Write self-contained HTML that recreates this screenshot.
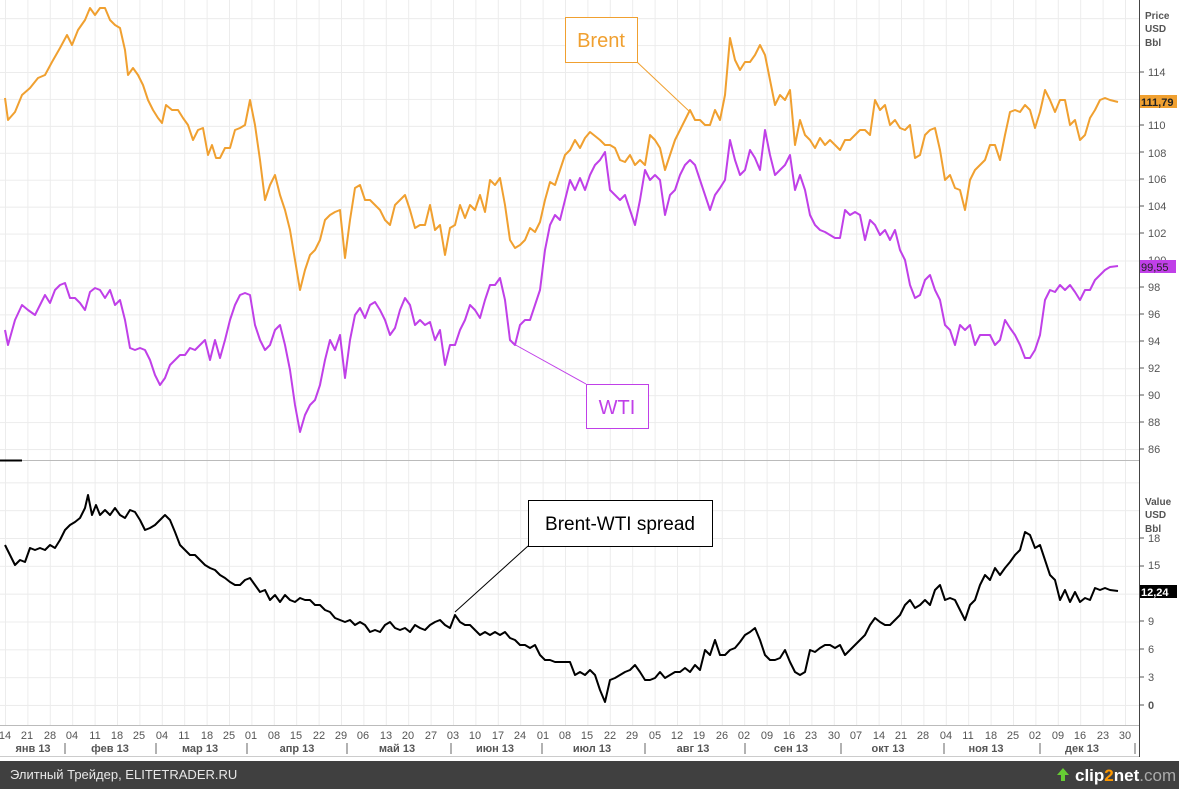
<!DOCTYPE html>
<html><head><meta charset="utf-8"><style>
html,body{margin:0;padding:0;background:#fff;}
svg{display:block;font-family:"Liberation Sans","DejaVu Sans",sans-serif;}
</style></head><body>
<svg width="1179" height="789" viewBox="0 0 1179 789" xmlns="http://www.w3.org/2000/svg">
<rect x="0" y="0" width="1179" height="789" fill="#fff"/>
<defs>
<pattern id="vg" x="5" y="0" width="22.4" height="789" patternUnits="userSpaceOnUse"><line x1="0.5" y1="0" x2="0.5" y2="789" stroke="#ececec" stroke-width="1"/></pattern>
<pattern id="hg1" x="0" y="72" width="1179" height="26.93" patternUnits="userSpaceOnUse"><line x1="0" y1="0.5" x2="1179" y2="0.5" stroke="#ececec"/></pattern>
<pattern id="hg2" x="0" y="538" width="1179" height="27.83" patternUnits="userSpaceOnUse"><line x1="0" y1="0.5" x2="1179" y2="0.5" stroke="#ececec"/></pattern>
</defs>
<rect x="0" y="0" width="1139" height="725" fill="url(#vg)"/>
<rect x="0" y="0" width="1139" height="458" fill="url(#hg1)"/>
<rect x="0" y="470" width="1139" height="255" fill="url(#hg2)"/>
<line x1="0" y1="460.5" x2="1139" y2="460.5" stroke="#bbb"/>
<line x1="0" y1="460.5" x2="22" y2="460.5" stroke="#000" stroke-width="2"/>
<line x1="1139.5" y1="0" x2="1139.5" y2="757" stroke="#444"/>
<!-- price axis -->
<g font-size="11" fill="#555">
<text x="1145" y="19" font-weight="bold" font-size="10">Price</text>
<text x="1145" y="32" font-weight="bold" font-size="10">USD</text>
<text x="1145" y="46" font-weight="bold" font-size="10">Bbl</text>
<text x="1148" y="76">114</text><text x="1148" y="129">110</text><text x="1148" y="157">108</text><text x="1148" y="183">106</text><text x="1148" y="210">104</text><text x="1148" y="237">102</text><text x="1148" y="264">100</text><text x="1148" y="291">98</text><text x="1148" y="318">96</text><text x="1148" y="345">94</text><text x="1148" y="372">92</text><text x="1148" y="399">90</text><text x="1148" y="426">88</text><text x="1148" y="453">86</text>
<text x="1145" y="505" font-weight="bold" font-size="10">Value</text>
<text x="1145" y="518" font-weight="bold" font-size="10">USD</text>
<text x="1145" y="532" font-weight="bold" font-size="10">Bbl</text>
<text x="1148" y="542">18</text><text x="1148" y="569">15</text><text x="1148" y="597">12</text><text x="1148" y="625">9</text><text x="1148" y="653">6</text><text x="1148" y="681">3</text><text x="1148" y="709" font-weight="bold">0</text>
</g>
<g stroke="#555"><line x1="1140" y1="72" x2="1144" y2="72"/><line x1="1140" y1="125" x2="1144" y2="125"/><line x1="1140" y1="152" x2="1144" y2="152"/><line x1="1140" y1="179" x2="1144" y2="179"/><line x1="1140" y1="206" x2="1144" y2="206"/><line x1="1140" y1="233" x2="1144" y2="233"/><line x1="1140" y1="287" x2="1144" y2="287"/><line x1="1140" y1="314" x2="1144" y2="314"/><line x1="1140" y1="341" x2="1144" y2="341"/><line x1="1140" y1="368" x2="1144" y2="368"/><line x1="1140" y1="395" x2="1144" y2="395"/><line x1="1140" y1="422" x2="1144" y2="422"/><line x1="1140" y1="449" x2="1144" y2="449"/><line x1="1140" y1="538" x2="1144" y2="538"/><line x1="1140" y1="566" x2="1144" y2="566"/><line x1="1140" y1="621" x2="1144" y2="621"/><line x1="1140" y1="649" x2="1144" y2="649"/><line x1="1140" y1="677" x2="1144" y2="677"/><line x1="1140" y1="705" x2="1144" y2="705"/></g>
<rect x="1140" y="95" width="37" height="13" fill="#f0a030"/><text x="1141" y="106" font-size="11" font-weight="bold" fill="#222">111,79</text>
<rect x="1140" y="260" width="36" height="13" fill="#c040e8"/><text x="1141" y="271" font-size="11" fill="#222">99,55</text>
<rect x="1140" y="585" width="37" height="13" fill="#000"/><text x="1141" y="596" font-size="11" font-weight="bold" fill="#fff">12,24</text>
<!-- series -->
<polyline fill="none" stroke="#f0a030" stroke-width="2" stroke-linejoin="round" points="5,98 8,120 15,112 22,95 30,88 38,78 45,75 52,62 60,48 67,35 72,45 78,30 85,20 90,8 95,15 100,8 105,8 110,20 115,25 120,28 125,50 128,75 133,68 138,75 143,85 148,100 153,110 158,118 162,123 166,105 172,110 178,110 183,118 188,125 193,140 198,130 203,128 208,155 212,145 216,158 220,158 225,148 230,148 235,130 240,128 245,125 250,100 255,125 260,160 265,200 270,185 275,175 280,195 285,210 290,230 295,260 300,290 305,270 310,255 315,250 320,240 325,220 330,215 335,212 340,210 345,258 350,220 355,188 360,185 365,200 370,200 375,205 380,210 385,220 390,225 395,205 400,200 405,195 410,210 415,228 420,225 425,225 430,205 435,230 440,225 445,255 450,228 455,225 460,205 465,218 470,205 475,210 480,195 485,212 490,180 495,185 500,178 505,205 510,240 515,248 520,245 525,240 530,228 535,232 540,222 545,200 550,182 555,185 560,170 565,155 570,150 575,140 580,148 585,138 590,132 595,136 600,140 605,145 610,145 615,148 620,160 625,162 630,155 635,165 640,160 645,165 650,135 655,140 660,148 665,170 670,155 675,140 680,130 685,120 690,110 695,120 700,120 705,125 710,125 715,110 720,120 725,95 730,38 735,60 740,70 745,62 750,62 755,55 760,45 765,55 770,80 775,105 780,95 785,100 790,90 795,145 800,120 805,135 810,140 815,148 820,138 825,145 830,140 835,145 840,150 845,140 850,140 855,135 860,130 865,130 870,135 875,100 880,110 885,105 890,125 895,120 900,128 905,130 910,125 915,158 920,155 925,135 930,130 935,128 940,150 945,180 950,175 955,188 960,190 965,210 970,180 975,170 980,165 985,160 990,145 995,145 1000,160 1005,135 1010,112 1015,110 1020,112 1025,105 1030,110 1035,128 1040,112 1045,90 1050,100 1055,112 1060,100 1065,100 1070,125 1075,120 1080,140 1085,135 1090,118 1095,110 1100,100 1105,98 1110,100 1118,102"/>
<polyline fill="none" stroke="#c040e8" stroke-width="2" stroke-linejoin="round" points="5,330 8,345 15,320 22,305 28,310 35,315 40,305 45,295 50,303 55,290 60,285 65,283 70,298 75,298 80,303 85,310 90,292 95,288 100,290 105,298 110,290 115,305 120,300 125,320 130,348 135,350 140,348 145,350 150,360 155,375 160,385 165,378 170,365 175,360 180,355 185,355 190,348 195,350 200,345 205,340 210,360 215,340 220,358 225,340 230,320 235,305 240,295 245,293 250,295 255,325 260,340 265,350 270,345 275,330 280,325 285,345 290,370 295,405 300,432 305,415 310,405 315,400 320,385 325,360 330,340 335,350 340,335 345,378 350,340 355,315 360,308 365,318 370,305 375,302 380,310 385,320 390,335 395,328 400,310 405,298 410,305 415,325 420,320 425,325 430,322 435,340 440,330 445,365 450,345 455,345 460,330 465,320 470,305 475,310 480,318 485,300 490,285 495,285 500,278 505,300 510,340 515,345 520,325 525,320 530,320 535,305 540,290 545,250 550,225 555,215 560,220 565,200 570,180 575,190 580,178 585,190 590,175 595,165 600,160 605,152 610,190 615,195 620,200 625,195 630,210 635,225 640,200 645,170 650,180 655,175 660,180 665,215 670,195 675,190 680,175 685,165 690,160 695,165 700,180 705,195 710,210 715,195 720,188 725,180 730,140 735,160 740,175 745,170 750,150 755,158 760,170 765,130 770,155 775,175 780,170 785,165 790,155 795,190 800,175 805,190 810,215 815,225 820,230 825,232 830,235 835,238 840,238 845,210 850,215 855,212 860,215 865,240 870,220 875,225 880,235 885,230 890,240 895,230 900,250 905,260 910,285 915,298 920,295 925,280 930,275 935,290 940,300 945,325 950,330 955,345 960,325 965,330 970,325 975,345 980,335 985,335 990,335 995,345 1000,340 1005,320 1010,328 1015,335 1020,345 1025,358 1030,358 1035,350 1040,335 1045,300 1050,290 1055,292 1060,285 1065,290 1070,285 1075,292 1080,300 1085,290 1090,290 1095,280 1100,275 1105,270 1110,267 1118,266"/>
<polyline fill="none" stroke="#000" stroke-width="2" stroke-linejoin="round" points="5,545 10,555 15,565 20,560 25,562 30,548 35,550 40,548 45,550 50,545 55,548 60,540 65,530 70,525 75,522 80,518 85,508 88,495 92,515 96,505 100,515 105,510 110,515 115,508 120,515 125,518 130,510 135,512 140,520 145,530 150,528 155,525 160,520 165,515 170,520 175,532 180,545 185,550 190,555 195,555 200,560 205,565 210,568 215,570 220,575 225,578 230,582 235,585 240,585 245,580 250,578 255,585 260,592 265,590 270,600 275,595 280,602 285,595 290,600 295,602 300,598 305,600 310,600 315,605 320,605 325,610 330,612 335,618 340,620 345,622 350,620 355,625 360,622 365,625 370,632 375,630 380,632 385,625 390,622 395,628 400,630 405,628 410,632 415,625 420,628 425,630 430,625 435,622 440,620 445,625 450,628 455,615 460,622 465,625 470,625 475,630 480,635 485,632 490,635 495,632 500,635 505,632 510,638 515,640 520,645 525,645 530,648 535,645 540,655 545,660 550,660 555,662 560,662 565,662 570,662 575,675 580,672 585,675 590,670 595,675 600,690 605,702 610,680 615,678 620,675 625,672 630,670 635,665 640,672 645,680 650,680 655,678 660,672 665,678 670,675 675,672 680,672 685,668 690,672 695,665 700,670 705,650 710,655 715,640 720,655 725,655 730,650 735,648 740,642 745,635 750,632 755,628 760,640 765,655 770,660 775,660 780,658 785,650 790,662 795,672 800,675 805,672 810,650 815,652 820,648 825,645 830,645 835,648 840,645 845,655 850,650 855,645 860,640 865,635 870,625 875,618 880,622 885,625 890,625 895,620 900,615 905,605 910,600 915,608 920,605 925,600 930,605 935,590 940,585 945,600 950,598 955,600 960,610 965,620 970,605 975,600 980,585 985,575 990,580 995,568 1000,575 1005,568 1010,562 1015,555 1020,550 1025,532 1030,535 1035,548 1040,545 1045,560 1050,575 1055,580 1060,600 1065,590 1070,602 1075,592 1080,602 1085,598 1090,600 1095,588 1100,590 1105,588 1110,590 1118,591"/>
<!-- annotations -->
<line x1="637" y1="62" x2="690" y2="112" stroke="#f0a030"/>
<rect x="565.5" y="17.5" width="72" height="45" fill="#fff" stroke="#f0a030"/>
<text x="601" y="47" text-anchor="middle" font-size="20" fill="#f0a030">Brent</text>
<line x1="512" y1="343" x2="586" y2="384" stroke="#c040e8"/>
<rect x="586.5" y="384.5" width="62" height="44" fill="#fff" stroke="#c040e8"/>
<text x="617" y="414" text-anchor="middle" font-size="20" fill="#c040e8">WTI</text>
<line x1="528" y1="546" x2="455" y2="612" stroke="#000"/>
<rect x="528.5" y="500.5" width="184" height="46" fill="#fff" stroke="#000"/>
<text x="620" y="530" text-anchor="middle" font-size="19" fill="#000">Brent-WTI spread</text>
<!-- date axis -->
<line x1="0" y1="725.5" x2="1139" y2="725.5" stroke="#bbb"/>
<line x1="0" y1="756.5" x2="1139" y2="756.5" stroke="#ccc"/>
<g font-size="11" fill="#555" text-anchor="middle">
<text x="5" y="739">14</text><text x="27" y="739">21</text><text x="50" y="739">28</text><text x="72" y="739">04</text><text x="95" y="739">11</text><text x="117" y="739">18</text><text x="139" y="739">25</text><text x="162" y="739">04</text><text x="184" y="739">11</text><text x="207" y="739">18</text><text x="229" y="739">25</text><text x="251" y="739">01</text><text x="274" y="739">08</text><text x="296" y="739">15</text><text x="319" y="739">22</text><text x="341" y="739">29</text><text x="363" y="739">06</text><text x="386" y="739">13</text><text x="408" y="739">20</text><text x="431" y="739">27</text><text x="453" y="739">03</text><text x="475" y="739">10</text><text x="498" y="739">17</text><text x="520" y="739">24</text><text x="543" y="739">01</text><text x="565" y="739">08</text><text x="587" y="739">15</text><text x="610" y="739">22</text><text x="632" y="739">29</text><text x="655" y="739">05</text><text x="677" y="739">12</text><text x="699" y="739">19</text><text x="722" y="739">26</text><text x="744" y="739">02</text><text x="767" y="739">09</text><text x="789" y="739">16</text><text x="811" y="739">23</text><text x="834" y="739">30</text><text x="856" y="739">07</text><text x="879" y="739">14</text><text x="901" y="739">21</text><text x="923" y="739">28</text><text x="946" y="739">04</text><text x="968" y="739">11</text><text x="991" y="739">18</text><text x="1013" y="739">25</text><text x="1035" y="739">02</text><text x="1058" y="739">09</text><text x="1080" y="739">16</text><text x="1103" y="739">23</text><text x="1125" y="739">30</text>
</g>
<g font-size="11" fill="#555" font-weight="bold" text-anchor="middle">
<text x="33" y="752">янв 13</text><text x="110" y="752">фев 13</text><text x="200" y="752">мар 13</text><text x="297" y="752">апр 13</text><text x="397" y="752">май 13</text><text x="495" y="752">июн 13</text><text x="592" y="752">июл 13</text><text x="693" y="752">авг 13</text><text x="791" y="752">сен 13</text><text x="888" y="752">окт 13</text><text x="986" y="752">ноя 13</text><text x="1082" y="752">дек 13</text>
</g>
<g stroke="#666"><line x1="65" y1="743" x2="65" y2="754"/><line x1="156" y1="743" x2="156" y2="754"/><line x1="247" y1="743" x2="247" y2="754"/><line x1="347" y1="743" x2="347" y2="754"/><line x1="451" y1="743" x2="451" y2="754"/><line x1="542" y1="743" x2="542" y2="754"/><line x1="645" y1="743" x2="645" y2="754"/><line x1="745" y1="743" x2="745" y2="754"/><line x1="841" y1="743" x2="841" y2="754"/><line x1="944" y1="743" x2="944" y2="754"/><line x1="1040" y1="743" x2="1040" y2="754"/><line x1="1135" y1="743" x2="1135" y2="754"/></g>
<!-- footer -->
<rect x="0" y="761" width="1179" height="28" fill="#404040"/>
<text x="10" y="779" font-size="13" fill="#e8e8e8">Элитный Трейдер, ELITETRADER.RU</text>
<polygon points="1063,768 1057,775 1061,775 1061,781 1065,781 1065,775 1069,775" fill="#6c3"/>
<text x="1075" y="781" font-size="17" font-weight="bold" fill="#fff">clip<tspan fill="#f90">2</tspan>net<tspan fill="#aaa" font-weight="normal">.com</tspan></text>
</svg>
</body></html>
